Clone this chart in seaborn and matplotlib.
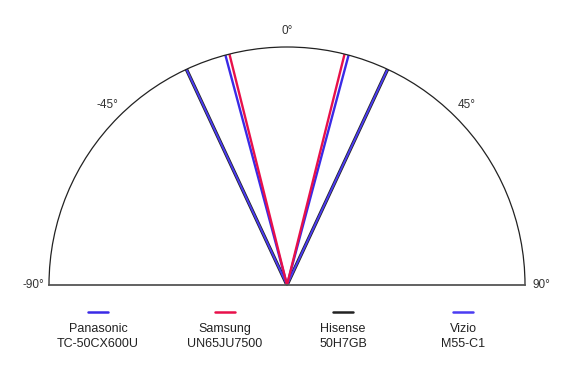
import numpy as np
import pandas as pd
import matplotlib
matplotlib.use("Agg")
import matplotlib.pyplot as plt
import seaborn as sns
from matplotlib.lines import Line2D

sns.set_style("white")
plt.rcParams['font.family'] = ['Liberation Sans', 'DejaVu Sans']

# Data: half viewing angle (degrees) for each TV
tvs = ["Panasonic\nTC-50CX600U", "Samsung\nUN65JU7500", "Hisense\n50H7GB", "Vizio\nM55-C1"]
half_angles = [15, 14, 25, 25]
colors = ["#3a2ae6", "#e8104a", "#222222", "#4b3cf2"]
widths = [1.7, 1.7, 2.5, 1.4]
tick_degs = [-90, -45, 0, 45, 90]
tick_labels = ["-90°", "-45°", "0°", "45°", "90°"]

W, H = 573, 376
fig = plt.figure(figsize=(W/100, H/100), dpi=100)
cx_px, cy_px, R = 287, 285, 238
# the half-disc is centred inside the (square) axes box
mid_y = cy_px - R/2
ax = fig.add_axes([(cx_px - R)/W, (H - mid_y - R)/H, 2*R/W, 2*R/H], projection='polar')
ax.set_theta_zero_location('N')
ax.set_theta_direction(-1)
ax.set_thetamin(-90)
ax.set_thetamax(90)

order = [2, 3, 0, 1]
for i in order:
    a = np.deg2rad(half_angles[i])
    df = pd.DataFrame({"theta": [-a, -a, a, a], "r": [1, 0, 0, 1]})
    sns.lineplot(data=df, x="theta", y="r", sort=False, estimator=None,
                 ax=ax, color=colors[i], lw=widths[i])

ax.set_ylim(0, 1)
ax.set_yticks([])
ax.set_xticks(np.deg2rad(tick_degs))
ax.set_xticklabels(tick_labels, fontsize=8.5, color="#333333")
ax.tick_params(axis='x', pad=1)
ax.grid(False)
ax.set_xlabel("")
ax.set_ylabel("")
ax.spines['polar'].set_color('#222222')
ax.spines['polar'].set_linewidth(0.9)
for s in ['start', 'end']:
    ax.spines[s].set_color('#555555')
    ax.spines[s].set_linewidth(1.3)

# Legend: handle above, label below
centers = [98, 225, 343, 463]
for cx, lab, c in zip(centers, tvs, colors):
    fig.add_artist(Line2D([(cx - 10)/W, (cx + 10)/W], [1 - 312/H]*2,
                          color=c, lw=1.8, transform=fig.transFigure))
    fig.text(cx/W, 1 - 323/H, lab, ha='center', va='top', fontsize=9,
             color="#222222", linespacing=1.35)

fig.savefig("out.png", dpi=100)
